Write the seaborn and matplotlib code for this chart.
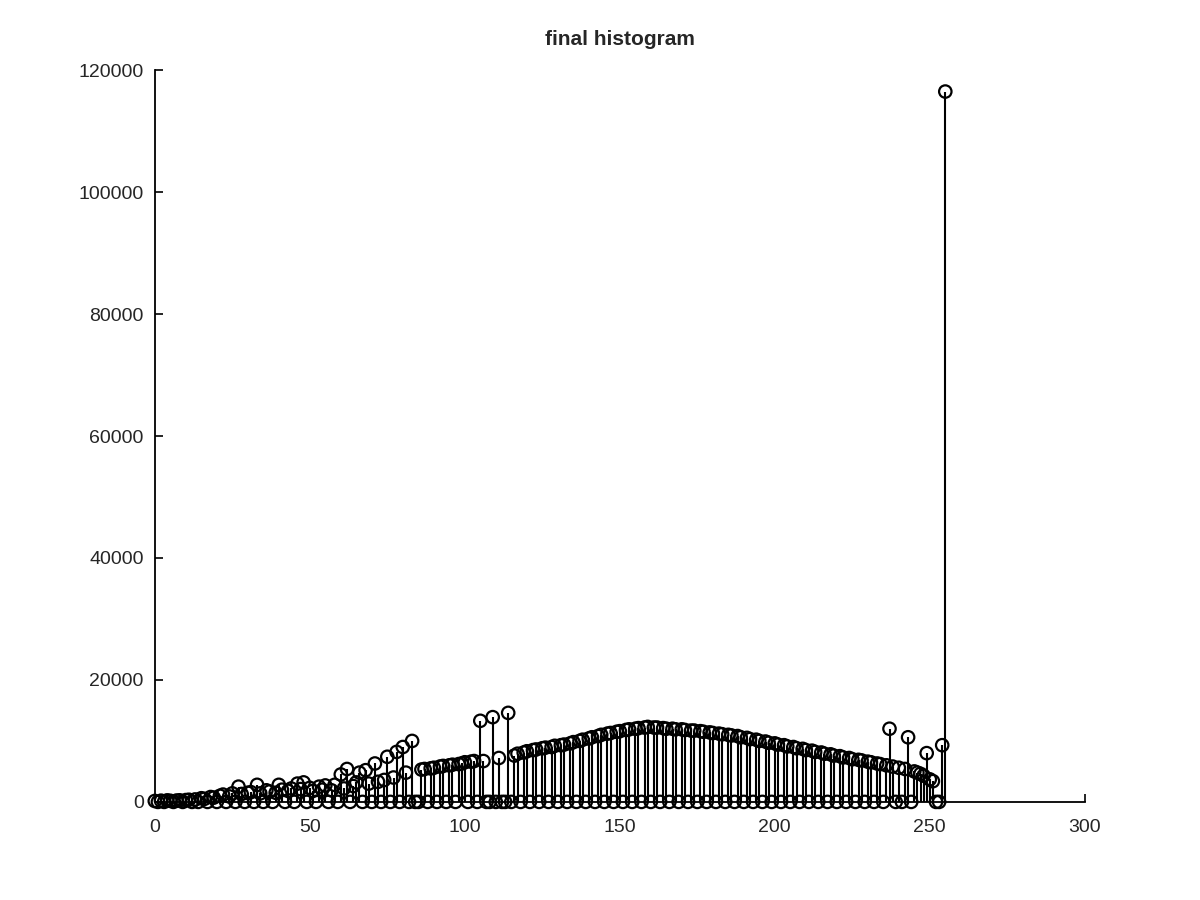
import matplotlib
matplotlib.use("Agg")
import matplotlib.pyplot as plt
import seaborn as sns
import pandas as pd

# gray level bins 0..255 and pixel counts
levels = list(range(256))
counts = [
    150, 0, 200, 0, 250, 180, 0, 220, 260, 0, 300, 350, 0,            # 0-12
    400, 0, 600, 500, 0, 800, 700, 0,                                  # 13-20
    1000, 1200, 0, 900, 1400, 0, 2500, 1300, 0, 1500,                  # 21-30
    1600, 0, 2800, 1400, 0, 1900, 1700, 0, 1500, 2800,                 # 31-40
    2000, 0, 1800, 2200, 0, 3000, 2100, 3200, 0, 2300,                 # 41-50
    1800, 0, 2500, 2000, 2700, 0, 1900, 2800, 0, 4500,                 # 51-60
    2200, 5400, 0, 2600, 3200, 4800, 0, 5200, 3000, 0,                 # 61-70
    6300, 3300, 0, 3600, 7400, 0, 4000, 8200, 0, 9000,                 # 71-80
    4800, 0, 10000, 0, 0,                                              # 81-85
    5300, 5400, 0, 5500, 5600, 0, 5800, 5900, 0, 6000,                 # 86-95
    6100, 0, 6200, 6300, 6500, 0, 6600, 6700, 0,                       # 96-104
    13300, 6700, 0, 0, 13900, 0, 7200, 0, 0, 14600, 0, 7600,           # 105-116
    7900, 0, 8100, 8300, 0, 8500, 8600, 0, 8800, 8900,                 # 117-126
    0, 9000, 9200, 0, 9300, 9400, 0, 9600, 9800, 0,                    # 127-136
    10000, 10200, 0, 10400, 10600, 0, 10800, 11000, 0, 11200,          # 137-146
    11300, 0, 11500, 11600, 0, 11800, 11900, 0, 12000, 12100,          # 147-156
    0, 12200, 12300, 0,                                                # 157-160
    12200, 12200, 0, 12100, 12000, 0, 12000, 11900, 0, 11900,          # 161-170
    11800, 0, 11700, 11700, 0, 11600, 11500, 0, 11400, 11300,          # 171-180
    0, 11200, 11100, 0, 11000, 10900, 0, 10800, 10600, 0,              # 181-190
    10500, 10300, 0, 10200, 10000, 0, 9900, 9700, 0, 9600,             # 191-200
    9400, 0, 9300, 9100, 0, 9000, 8800, 0, 8700, 8500,                 # 201-210
    0, 8400, 8200, 0, 8100, 7900, 0, 7800, 7600, 0,                    # 211-220
    7500, 7300, 0, 7200, 7000, 0, 6900, 6800, 0, 6600,                 # 221-230
    6500, 0, 6300, 6200, 0, 6000, 12000, 5800, 0, 5600,                # 231-240
    0, 5400, 10600, 0, 5000, 4800, 4600, 4300, 8000, 3700,             # 241-250
    3400, 0, 0, 9300, 116500,                                          # 251-255
]

df = pd.DataFrame({"level": levels, "count": counts})

sns.set_style("ticks")
plt.rcParams["font.family"] = ["Liberation Sans", "DejaVu Sans"]

fig = plt.figure(figsize=(12, 9), dpi=100)
ax = fig.add_axes([0.129, 0.109, 0.775, 0.813])

ax.vlines(df["level"], 0, df["count"], color="black", linewidth=1.5, zorder=2)
sns.scatterplot(data=df, x="level", y="count", marker="o", s=80,
                facecolor="none", edgecolor="black", linewidth=1.6,
                ax=ax, zorder=3, clip_on=False)

ax.set_xlim(0, 300)
ax.set_ylim(0, 120000)
ax.set_xticks(range(0, 301, 50))
ax.set_yticks(range(0, 120001, 20000))
ax.set_xlabel("")
ax.set_ylabel("")
ax.tick_params(direction="in", length=6, width=1.2, labelsize=14, colors="black",
               labelcolor="#262626")
ax.tick_params(axis="x", pad=12)
ax.tick_params(axis="y", pad=8)
sns.despine(ax=ax)
for s in ["left", "bottom"]:
    ax.spines[s].set_linewidth(1.3)
    ax.spines[s].set_color("black")
ax.set_title("final histogram", fontsize=15, fontweight="bold", pad=18)

fig.savefig("out.png", dpi=100, facecolor="white")
